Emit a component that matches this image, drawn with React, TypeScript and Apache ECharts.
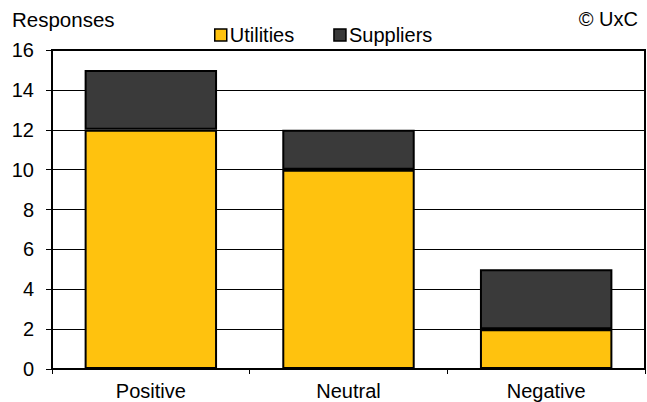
import React, { useEffect, useRef } from "react";
import * as echarts from "echarts";

const categories = ["Positive", "Neutral", "Negative"];
const utilities = [12, 10, 2];
const suppliers = [3, 2, 3];
const yTicks = [0, 2, 4, 6, 8, 10, 12, 14, 16];

export default function App() {
  const ref = useRef<HTMLDivElement>(null);
  useEffect(() => {
    const chart = echarts.init(ref.current!, null, { renderer: "svg" });
    const font = "'Liberation Sans', Arial, sans-serif";
    chart.setOption({
      animation: false,
      textStyle: { fontFamily: font },
      grid: {
        left: 52,
        right: 2,
        top: 50,
        bottom: 33,
        show: true,
        borderColor: "#000",
        borderWidth: 2,
        backgroundColor: "transparent",
      },
      legend: {
        top: 20,
        left: 209,
        itemGap: 39,
        itemWidth: 12,
        itemHeight: 12,
        icon: "rect",
        itemStyle: { borderColor: "#000", borderWidth: 1.5 },
        textStyle: { fontSize: 20, color: "#000", fontFamily: font, padding: [0, 0, 0, -2] },
        data: ["Utilities", "Suppliers"],
      },
      graphic: [
        { type: "text", left: 12, top: 9, style: { text: "Responses", fontSize: 20.5, fill: "#000", fontFamily: font } },
        { type: "text", right: 9, top: 9, style: { text: "© UxC", fontSize: 20, fill: "#000", fontFamily: font } },
      ],
      xAxis: {
        type: "category",
        data: categories,
        axisLine: { lineStyle: { color: "#000", width: 2 } },
        axisTick: { show: true, length: 5, lineStyle: { color: "#000" } },
        axisLabel: { color: "#000", fontSize: 20, margin: 12, fontFamily: font },
      },
      yAxis: {
        type: "value",
        min: 0,
        max: yTicks[yTicks.length - 1],
        interval: 2,
        axisLine: { show: true, lineStyle: { color: "#000", width: 2 } },
        axisTick: { show: true, length: 6, lineStyle: { color: "#000" } },
        axisLabel: { color: "#000", fontSize: 20, margin: 18, fontFamily: font },
        splitLine: { show: true, lineStyle: { color: "#000", width: 1 } },
      },
      series: [
        {
          name: "Utilities",
          type: "bar",
          stack: "a",
          data: utilities,
          barWidth: "67%",
          itemStyle: { color: "#FFC20E", borderColor: "#000", borderWidth: 2 },
        },
        {
          name: "Suppliers",
          type: "bar",
          stack: "a",
          data: suppliers,
          barWidth: "67%",
          itemStyle: { color: "#3A3A3A", borderColor: "#000", borderWidth: 2 },
        },
      ],
    });
    return () => chart.dispose();
  }, []);
  return <div ref={ref} style={{ width: 647, height: 402, position: "absolute", left: 0, top: 0 }} />;
}
